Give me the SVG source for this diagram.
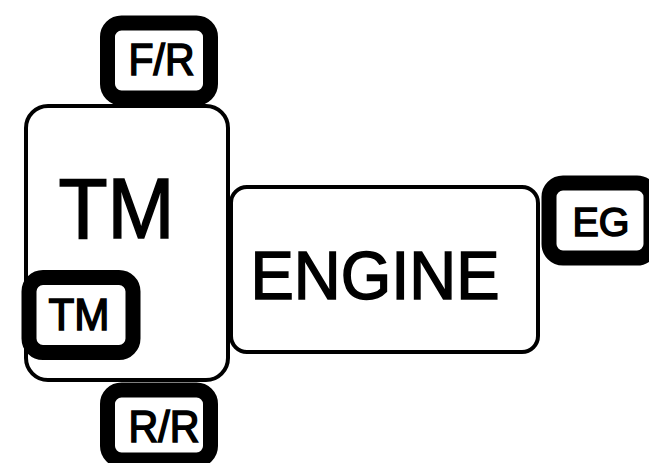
<svg xmlns="http://www.w3.org/2000/svg" width="649" height="463" viewBox="0 0 649 463">
<style>
.big{fill:#fff;stroke:#000;stroke-width:4}
.tag{fill:#fff;stroke:#000;stroke-width:15}
text{font-family:"Liberation Sans",Arial,sans-serif;fill:#000;stroke:#000;stroke-width:1.6;text-anchor:middle}
</style>
<rect width="649" height="463" fill="#fff"/>
<g id="connectors"></g>
<g id="tm-main">
<rect class="big" x="26" y="106" width="202" height="274" rx="22"/>
<text x="116.5" y="238" font-size="85" textLength="116" lengthAdjust="spacingAndGlyphs">TM</text>
</g>
<g id="engine">
<rect class="big" x="231" y="187" width="307" height="165" rx="16"/>
<text x="375" y="299" font-size="68" textLength="249" lengthAdjust="spacingAndGlyphs">ENGINE</text>
</g>
<g id="fr">
<rect class="tag" x="107.5" y="23" width="103" height="75" rx="14"/>
<text x="161.5" y="75" font-size="45" textLength="66" lengthAdjust="spacingAndGlyphs">F/R</text>
</g>
<g id="tm-tag">
<rect class="tag" x="29" y="277.5" width="104" height="75" rx="14"/>
<text x="79" y="330" font-size="45" textLength="61" lengthAdjust="spacingAndGlyphs">TM</text>
</g>
<g id="rr">
<rect class="tag" x="107.5" y="390" width="103" height="70" rx="14"/>
<text x="164" y="442" font-size="45" textLength="71" lengthAdjust="spacingAndGlyphs">R/R</text>
</g>
<g id="eg">
<rect class="tag" x="549" y="183" width="102" height="75" rx="14"/>
<text x="601" y="236" font-size="41" textLength="57" lengthAdjust="spacingAndGlyphs">EG</text>
</g>
</svg>
